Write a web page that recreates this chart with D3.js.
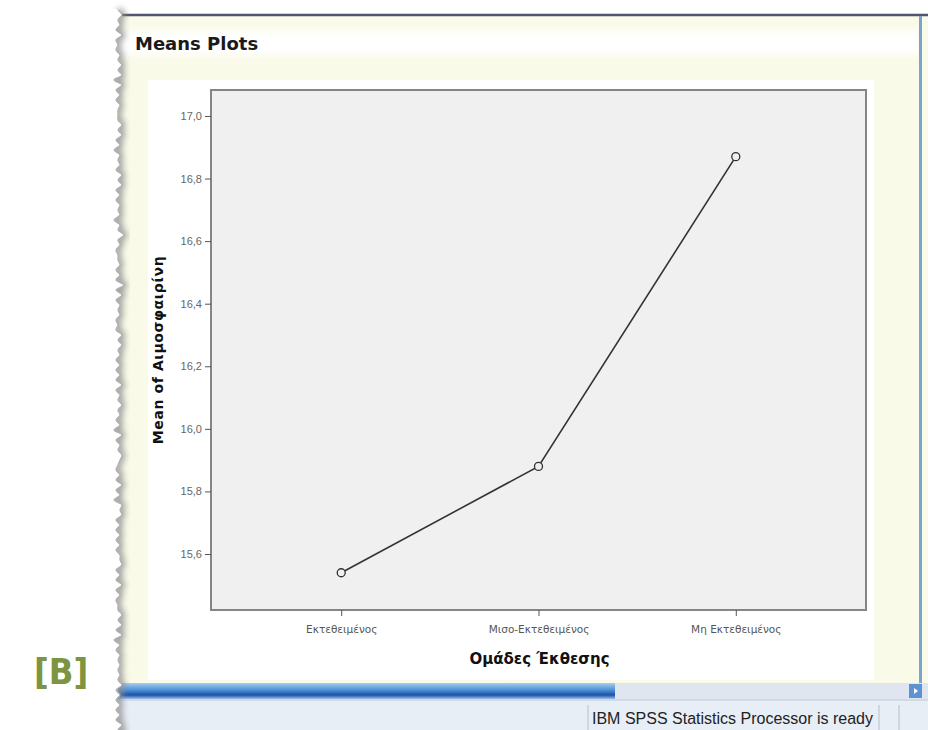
<!DOCTYPE html>
<html>
<head>
<meta charset="utf-8">
<script src="https://cdn.jsdelivr.net/npm/d3@7"></script>
<style>
body{margin:0;background:#fff;}
svg{display:block;font-family:"Liberation Sans",Arial,sans-serif;}
</style>
</head>
<body>
<div id="chart"></div>
<script>
var groups = ["Εκτεθειμένος", "Μισο-Εκτεθειμένος", "Μη Εκτεθειμένος"];
var means = [15.54, 15.88, 16.87];
var yTicks = [15.6, 15.8, 16.0, 16.2, 16.4, 16.6, 16.8, 17.0];
var yDomain = [15.421, 17.083];

function draw() {
var width = 928, height = 730;
var svg = d3.select('#chart').append('svg')
  .attr('width', width)
  .attr('height', height);

var defs = svg.append('defs');
var g1 = defs.append('linearGradient').attr('id', 'scroll').attr('x1', 0).attr('y1', 0).attr('x2', 0).attr('y2', 1);
g1.append('stop').attr('offset', '0%').attr('stop-color', '#a9cdf0');
g1.append('stop').attr('offset', '45%').attr('stop-color', '#4a8fd6');
g1.append('stop').attr('offset', '75%').attr('stop-color', '#1c4fa6');
g1.append('stop').attr('offset', '100%').attr('stop-color', '#9ec2ea');
var g2 = defs.append('linearGradient').attr('id', 'titleband').attr('x1', 0).attr('y1', 0).attr('x2', 0).attr('y2', 1);
g2.append('stop').attr('offset', '0%').attr('stop-color', '#fafae9');
g2.append('stop').attr('offset', '35%').attr('stop-color', '#ffffff');
g2.append('stop').attr('offset', '70%').attr('stop-color', '#ffffff');
g2.append('stop').attr('offset', '100%').attr('stop-color', '#fafae9');
var blur = defs.append('filter').attr('id', 'sh').attr('x', '-50%').attr('width', '200%');
blur.append('feGaussianBlur').attr('stdDeviation', 3);

// window background
svg.append('rect').attr('x', 118).attr('y', 14).attr('width', 810).attr('height', 716).attr('fill', '#fafae9');
svg.append('rect').attr('x', 118).attr('y', 24).attr('width', 800).attr('height', 36).attr('fill', 'url(#titleband)');
svg.append('line').attr('x1', 118).attr('x2', 928).attr('y1', 15).attr('y2', 15)
  .attr('stroke', '#50546e').attr('stroke-width', 2.5);
svg.append('rect').attr('x', 919).attr('y', 16).attr('width', 3).attr('height', 668).attr('fill', '#7fa3cf');
svg.append('rect').attr('x', 148).attr('y', 80).attr('width', 726).attr('height', 600).attr('fill', '#fff');

svg.append('text').attr('x', 135).attr('y', 50)
  .attr('font-size', 18).attr('font-weight', 'bold').attr('fill', '#1a1a1a')
  .attr('font-family', '"DejaVu Sans",sans-serif')
  .text('Means Plots');

// scrollbar + status bar
svg.append('rect').attr('x', 118).attr('y', 683).attr('width', 810).attr('height', 16).attr('fill', '#dfe6f0');
svg.append('rect').attr('x', 118).attr('y', 683).attr('width', 497).attr('height', 16).attr('fill', 'url(#scroll)');
svg.append('rect').attr('x', 909).attr('y', 684).attr('width', 13).attr('height', 14).attr('fill', '#5d93d3');
svg.append('path').attr('d', 'M914,688 L918,691 L914,694 Z').attr('fill', '#fff');
svg.append('rect').attr('x', 118).attr('y', 699).attr('width', 810).attr('height', 31).attr('fill', '#e8eef6');
svg.append('line').attr('x1', 118).attr('x2', 928).attr('y1', 700).attr('y2', 700).attr('stroke', '#b9c7d9');
[588, 879, 899].forEach(function(x) {
  svg.append('line').attr('x1', x).attr('x2', x).attr('y1', 705).attr('y2', 730).attr('stroke', '#b3bfcf');
});
svg.append('text').attr('x', 592).attr('y', 724).attr('font-size', 16).attr('fill', '#222')
  .text('IBM SPSS Statistics Processor is ready');

// torn left edge
var pts = [];
for (var i = 0; i <= 146; i++) {
  var yy = 10 + i * 5;
  var off = (i % 2 == 0 ? 0 : 4) + (i % 5 == 0 ? 2 : 0) - (i % 7 == 0 ? 2 : 0) + (i % 11 < 3 ? 2 : 0);
  pts.push([116 + off, yy]);
}
var edge = d3.line().curve(d3.curveCatmullRom)(pts);
svg.append('path').attr('d', edge).attr('fill', 'none').attr('stroke', '#8f8f8f')
  .attr('stroke-width', 7).attr('filter', 'url(#sh)').attr('opacity', 0.85);
svg.append('path').attr('d', edge + ' L90,740 L90,0 Z').attr('fill', '#fff');
svg.append('path').attr('d', edge).attr('fill', 'none').attr('stroke', '#b0b0b0').attr('stroke-width', 1.2);

svg.append('text').attr('x', 34).attr('y', 684).attr('font-size', 36).attr('font-weight', 'bold')
  .attr('font-family', '"DejaVu Sans Condensed","Liberation Sans Narrow",sans-serif')
  .attr('fill', '#7d9440').text('[B]');

// plot
var pLeft = 211, pRight = 866, pTop = 90, pBottom = 610;
var x = d3.scalePoint().domain(groups).range([pLeft, pRight]).padding(0.66);
var y = d3.scaleLinear().domain(yDomain).range([pBottom, pTop]);

svg.append('rect').attr('x', pLeft).attr('y', pTop).attr('width', pRight - pLeft).attr('height', pBottom - pTop)
  .attr('fill', '#f0f0f0').attr('stroke', '#858585').attr('stroke-width', 2);

var yAxis = svg.append('g').attr('transform', 'translate(' + pLeft + ',0)')
  .call(d3.axisLeft(y).tickValues(yTicks).tickSize(6).tickPadding(3)
    .tickFormat(function(d) { return d3.format('.1f')(d).replace('.', ','); }));
yAxis.select('.domain').remove();
yAxis.selectAll('line').attr('stroke', '#555');
yAxis.selectAll('text').attr('font-size', 11).attr('fill', '#666').attr('font-family', 'inherit');

var xAxis = svg.append('g').attr('transform', 'translate(0,' + pBottom + ')')
  .call(d3.axisBottom(x).tickSize(6).tickPadding(10));
xAxis.select('.domain').remove();
xAxis.selectAll('line').attr('stroke', '#555');
xAxis.selectAll('text').attr('font-size', 10.5).attr('fill', '#555')
  .attr('font-family', '"DejaVu Sans",sans-serif');

svg.append('text').attr('x', (pLeft + pRight) / 2 + 1).attr('y', 664)
  .attr('text-anchor', 'middle').attr('font-size', 15).attr('font-weight', 'bold').attr('fill', '#111')
  .attr('font-family', '"DejaVu Sans",sans-serif')
  .text('Ομάδες Έκθεσης');
svg.append('text')
  .attr('transform', 'translate(163,' + ((pTop + pBottom) / 2) + ') rotate(-90)')
  .attr('text-anchor', 'middle').attr('font-size', 14).attr('font-weight', 'bold').attr('fill', '#111')
  .attr('font-family', '"DejaVu Sans",sans-serif').attr('letter-spacing', 0.6)
  .text('Mean of Αιμοσφαιρίνη');

var line = d3.line()
  .x(function(d, i) { return x(groups[i]); })
  .y(function(d) { return y(d); });
svg.append('path').datum(means).attr('d', line)
  .attr('fill', 'none').attr('stroke', '#333').attr('stroke-width', 1.6);

svg.selectAll('circle.pt').data(means).enter().append('circle')
  .attr('class', 'pt')
  .attr('cx', function(d, i) { return x(groups[i]); })
  .attr('cy', function(d) { return y(d); })
  .attr('r', 4)
  .attr('fill', '#f0f0f0').attr('stroke', '#333').attr('stroke-width', 1.3);
}
draw();
</script>
</body>
</html>
